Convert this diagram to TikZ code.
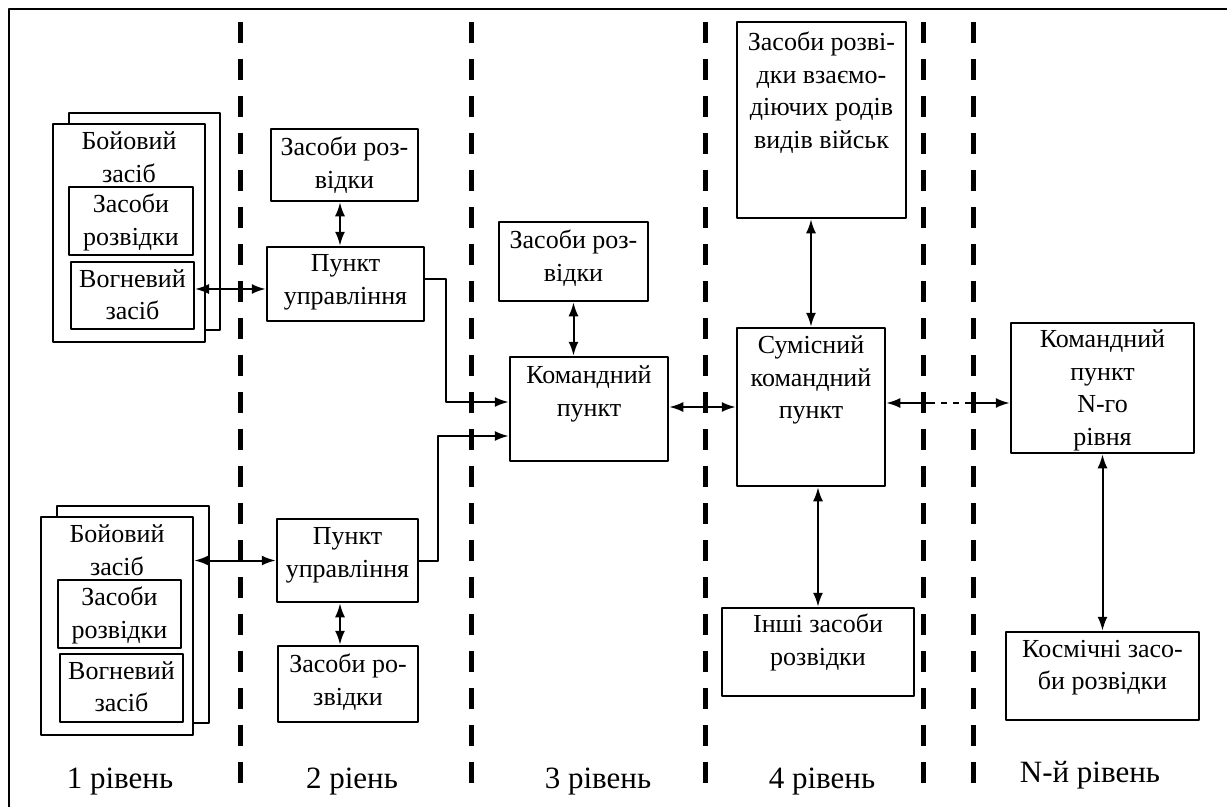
\documentclass[tikz,border=0pt]{standalone}
\usepackage{fontspec}
\setmainfont{Liberation Serif}
\usetikzlibrary{arrows.meta,positioning}

\tikzset{
  box/.style={draw, line width=2.5pt, fill=white, inner sep=0pt},
  inbox/.style={draw, line width=2pt, fill=white, inner sep=0pt},
  txt/.style={align=center, inner sep=0pt, anchor=north, font=\fontsize{26}{32.5}\selectfont},
  lvl/.style={anchor=base, inner sep=0pt, font=\fontsize{31}{36}\selectfont},
  levelline/.style={line width=5pt, dash pattern=on 21pt off 16pt},
  conn/.style={line width=2pt, {Latex[length=14pt,width=10pt]}-{Latex[length=14pt,width=10pt]}},
  feed/.style={line width=2pt, -{Latex[length=14pt,width=10pt]}},
}

\begin{document}
\begin{tikzpicture}[x=1pt, y=-1pt, line join=round]
  \useasboundingbox (0,0) rectangle (1227,807);
  \draw[line width=2.5pt] (1227,9) -- (9,9) -- (9,807);

  % межі рівнів
  \foreach \x in {240,471,705,923,973}
    \draw[levelline] (\x,22) -- (\x,790);

  % 1 рівень, верхня група
  \draw[line width=2.5pt] (69,113) rectangle (220,330);
  \node[box, minimum width=152pt, minimum height=218pt] (bz1) at (129,233) {};
  \node[txt] (bz1t) at ([yshift=-9pt]bz1.north) {Бойовий\\засіб};
  \node[inbox, minimum width=124pt, minimum height=68pt] (zr1in) at (131,221) {};
  \node[txt] (zr1int) at ([yshift=-8pt]zr1in.north) {Засоби\\розвідки};
  \node[inbox, minimum width=123pt, minimum height=67pt] (vz1) at (132.5,295.5) {};
  \node[txt] (vz1t) at ([yshift=-8pt]vz1.north) {Вогневий\\засіб};

  % 1 рівень, нижня група
  \draw[line width=2.5pt] (57,506) rectangle (209,723);
  \node[box, minimum width=152pt, minimum height=218pt] (bz2) at (117,626) {};
  \node[txt] (bz2t) at ([yshift=-9pt]bz2.north) {Бойовий\\засіб};
  \node[inbox, minimum width=123pt, minimum height=68pt] (zr2in) at (119.5,614) {};
  \node[txt] (zr2int) at ([yshift=-8pt]zr2in.north) {Засоби\\розвідки};
  \node[inbox, minimum width=123pt, minimum height=68pt] (vz2) at (121.5,688) {};
  \node[txt] (vz2t) at ([yshift=-8pt]vz2.north) {Вогневий\\засіб};

  % 2 рівень
  \node[box, minimum width=147pt, minimum height=72pt] (zr1) at (344.5,165) {};
  \node[txt] (zr1t) at ([yshift=-9pt]zr1.north) {Засоби роз-\\відки};
  \node[box, minimum width=157pt, minimum height=74pt] (pu1) at (345.5,284) {};
  \node[txt] (pu1t) at ([yshift=-9pt]pu1.north) {Пункт\\управління};
  \node[box, minimum width=141pt, minimum height=83pt] (pu2) at (347.5,560.5) {};
  \node[txt] (pu2t) at ([yshift=-10pt]pu2.north) {Пункт\\управління};
  \node[box, minimum width=140pt, minimum height=76pt] (zr2) at (348,684) {};
  \node[txt] (zr2t) at ([yshift=-9pt]zr2.north) {Засоби ро-\\звідки};

  % 3 рівень
  \node[box, minimum width=149pt, minimum height=79pt] (zr3) at (573.5,261.5) {};
  \node[txt] (zr3t) at ([yshift=-9pt]zr3.north) {Засоби роз-\\відки};
  \node[box, minimum width=158pt, minimum height=104pt] (kp) at (589,409) {};
  \node[txt] (kpt) at ([yshift=-10pt]kp.north) {Командний\\пункт};

  % 4 рівень
  \node[box, minimum width=169pt, minimum height=196pt] (zrv) at (821.5,120) {};
  \node[txt] (zrvt) at ([yshift=-11pt]zrv.north) {Засоби розві-\\дки взаємо-\\діючих родів\\видів військ};
  \node[box, minimum width=148pt, minimum height=158pt] (sum) at (811,407) {};
  \node[txt] (sumt) at ([yshift=-9pt]sum.north) {Сумісний\\командний\\пункт};
  \node[box, minimum width=192pt, minimum height=88pt] (inshi) at (818,652) {};
  \node[txt] (inshit) at ([yshift=-7pt]inshi.north) {Інші засоби\\розвідки};

  % N-й рівень
  \node[box, minimum width=183pt, minimum height=130pt] (kpn) at (1102.5,388) {};
  \node[txt] (kpnt) at ([yshift=-8pt]kpn.north) {Командний\\пункт\\N-го\\рівня};
  \node[box, minimum width=193pt, minimum height=88pt] (kosm) at (1102.5,676) {};
  \node[txt] (kosmt) at ([yshift=-9pt]kosm.north) {Космічні засо-\\би розвідки};

  % зв'язки
  \draw[conn] (vz1.east |- 0,289) -- (pu1.west |- 0,289);
  \draw[conn] (bz2.east |- pu2.west) -- (pu2.west);
  \draw[conn] (zr1.south -| 340,0) -- (pu1.north -| 340,0);
  \draw[conn] (pu2.south -| 340,0) -- (zr2.north -| 340,0);
  \draw[feed] (pu1.east |- 0,279) -| (446,402) -- (kp.west |- 0,402);
  \draw[feed] (pu2.east |- 0,561) -| (438,436) -- (kp.west |- 0,436);
  \draw[conn] (zr3.south) -- (kp.north -| zr3.south);
  \draw[conn] (kp.east |- 0,407) -- (sum.west |- 0,407);
  \draw[conn] (zrv.south -| sum.north) -- (sum.north);
  \draw[conn] (sum.south -| inshi.north) -- (inshi.north);
  \coordinate (gl) at (929,403);
  \coordinate (gr) at (966,403);
  \draw[line width=2pt, {Latex[length=14pt,width=10pt]}-] (sum.east |- gl) -- (gl);
  \draw[line width=2pt, dash pattern=on 6pt off 6pt] (gl) -- (gr);
  \draw[feed] (gr) -- (kpn.west |- gr);
  \draw[conn] (kpn.south) -- (kosm.north);

  % підписи рівнів
  \node[lvl] (lv1) at (120,788) {1 рівень};
  \node[lvl] (lv2) at (352,788) {2 ріень};
  \node[lvl] (lv3) at (598,788) {3 рівень};
  \node[lvl] (lv4) at (822,788) {4 рівень};
  \node[lvl] (lvn) at (1090,782) {N-й рівень};
\end{tikzpicture}
\end{document}
